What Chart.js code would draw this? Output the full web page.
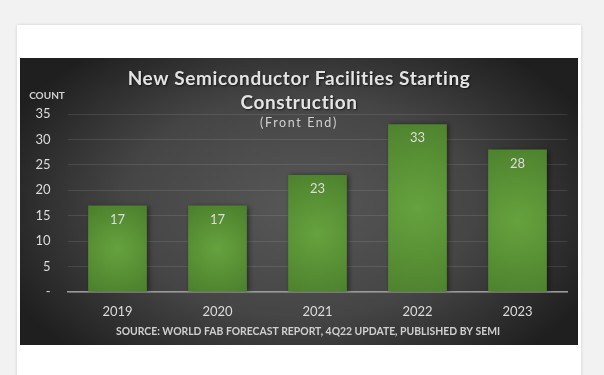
<!DOCTYPE html>
<html>
<head>
<meta charset="utf-8">
<script src="https://cdn.jsdelivr.net/npm/chart.js@4"></script>
<style>
  html, body { margin: 0; padding: 0; background: #f2f2f2; width: 604px; height: 375px; overflow: hidden; }
  .card { position: absolute; left: 17px; top: 25px; width: 564px; height: 360px; background: #fff;
          box-shadow: 0 0 3px rgba(0,0,0,0.15); }
  #chart { position: absolute; left: 20px; top: 58px; }
</style>
</head>
<body>
<div class="card"></div>
<canvas id="chart" width="558" height="287"></canvas>
<script>
// Chart data
const years = ['2019', '2020', '2021', '2022', '2023'];
const facilities = [17, 17, 23, 33, 28];
const yMax = 35;
const yStep = 5;

const titleLines = ['New Semiconductor Facilities Starting', 'Construction'];
const subTitle = '(Front End)';
const yLabel = 'COUNT';
const sourceNote = 'SOURCE: WORLD FAB FORECAST REPORT, 4Q22 UPDATE, PUBLISHED BY SEMI';

const FONT = 'Lato, "Open Sans", sans-serif';
const TEXT = '#dcdcdc';

// bar fill: lighter green in the middle of each bar
const barFill = (ctx) => {
    const chart = ctx.chart;
    const area = chart.chartArea;
    const x = chart.scales.x;
    const y = chart.scales.y;
    if (!area || !x || !y || ctx.type !== 'data') return '#55892f';
    const cx = x.getPixelForValue(ctx.dataIndex);
    const top = y.getPixelForValue(ctx.raw);
    const cy = (top + area.bottom) / 2;
    const r = Math.max(40, (area.bottom - top) / 1.6);
    const g = chart.ctx.createRadialGradient(cx, cy, 0, cx, cy, r);
    g.addColorStop(0, '#66a23e');
    g.addColorStop(1, '#4a7d2b');
    return g;
};

const decor = {
    id: 'decor',
    beforeDraw(chart) {
        const { ctx, width, height } = chart;
        ctx.save();
        ctx.translate(width * 0.5, height * 0.52);
        ctx.scale(1.6, 1);
        const g = ctx.createRadialGradient(0, 0, 0, 0, 0, width * 0.36);
        g.addColorStop(0, '#575757');
        g.addColorStop(0.55, '#454545');
        g.addColorStop(1, '#1f1f1f');
        ctx.fillStyle = g;
        ctx.fillRect(-width, -height, width * 2, height * 2);
        ctx.restore();
    },
    beforeDatasetsDraw(chart) {
        const ctx = chart.ctx;
        ctx.save();
        ctx.shadowColor = 'rgba(0,0,0,0.45)';
        ctx.shadowBlur = 5;
        ctx.shadowOffsetX = 2;
    },
    afterDatasetsDraw(chart) {
        const ctx = chart.ctx;
        ctx.restore();
        ctx.save();
        ctx.fillStyle = TEXT;
        ctx.font = '13px ' + FONT;
        ctx.textAlign = 'center';
        ctx.textBaseline = 'middle';
        chart.getDatasetMeta(0).data.forEach((bar, i) => {
            ctx.fillText(String(facilities[i]), bar.x, bar.y + 14);
        });
        ctx.restore();
    },
    afterDraw(chart) {
        const ctx = chart.ctx;
        ctx.save();
        ctx.textAlign = 'center';
        ctx.textBaseline = 'middle';
        ctx.shadowColor = 'rgba(0,0,0,0.6)';
        ctx.shadowBlur = 2;
        ctx.shadowOffsetX = 1;
        ctx.shadowOffsetY = 1;
        ctx.fillStyle = '#e4e4e4';
        ctx.font = 'bold 19px ' + FONT;
        ctx.letterSpacing = '0.6px';
        ctx.fillText(titleLines[0], 279, 21);
        ctx.fillText(titleLines[1], 279, 45);
        ctx.shadowColor = 'transparent';
        ctx.fillStyle = '#d0d0d0';
        ctx.font = '12.5px ' + FONT;
        ctx.letterSpacing = '1.6px';
        ctx.fillText(subTitle, 279, 65);
        ctx.letterSpacing = '0px';
        ctx.font = 'bold 10px ' + FONT;
        ctx.fillText(yLabel, 27, 38);
        ctx.font = 'bold 10.4px ' + FONT;
        ctx.fillText(sourceNote, 288, 274);
        ctx.restore();
    }
};

new Chart(document.getElementById('chart'), {
    type: 'bar',
    data: {
        labels: years,
        datasets: [{
            data: facilities,
            backgroundColor: barFill,
            borderWidth: 0,
            categoryPercentage: 1,
            barPercentage: 0.587
        }]
    },
    options: {
        responsive: false,
        animation: false,
        layout: { padding: { top: 56, left: 0, right: 10.5, bottom: 0 } },
        plugins: { legend: { display: false }, tooltip: { enabled: false } },
        scales: {
            x: {
                grid: { display: false },
                border: { display: true, color: '#9a9a9a', width: 1.5 },
                ticks: { color: TEXT, font: { family: FONT, size: 13 }, padding: 4 },
                afterFit: (s) => { s.height = 53; }
            },
            y: {
                min: 0, max: yMax,
                grid: { color: 'rgba(255,255,255,0.1)', drawTicks: false, lineWidth: 1 },
                border: { display: false },
                ticks: {
                    stepSize: yStep, color: TEXT, padding: 17,
                    font: { family: FONT, size: 13 },
                    callback: (v) => v === 0 ? '-' : v
                },
                afterFit: (s) => { s.width = 47.5; }
            }
        }
    },
    plugins: [decor]
});
</script>
</body>
</html>
